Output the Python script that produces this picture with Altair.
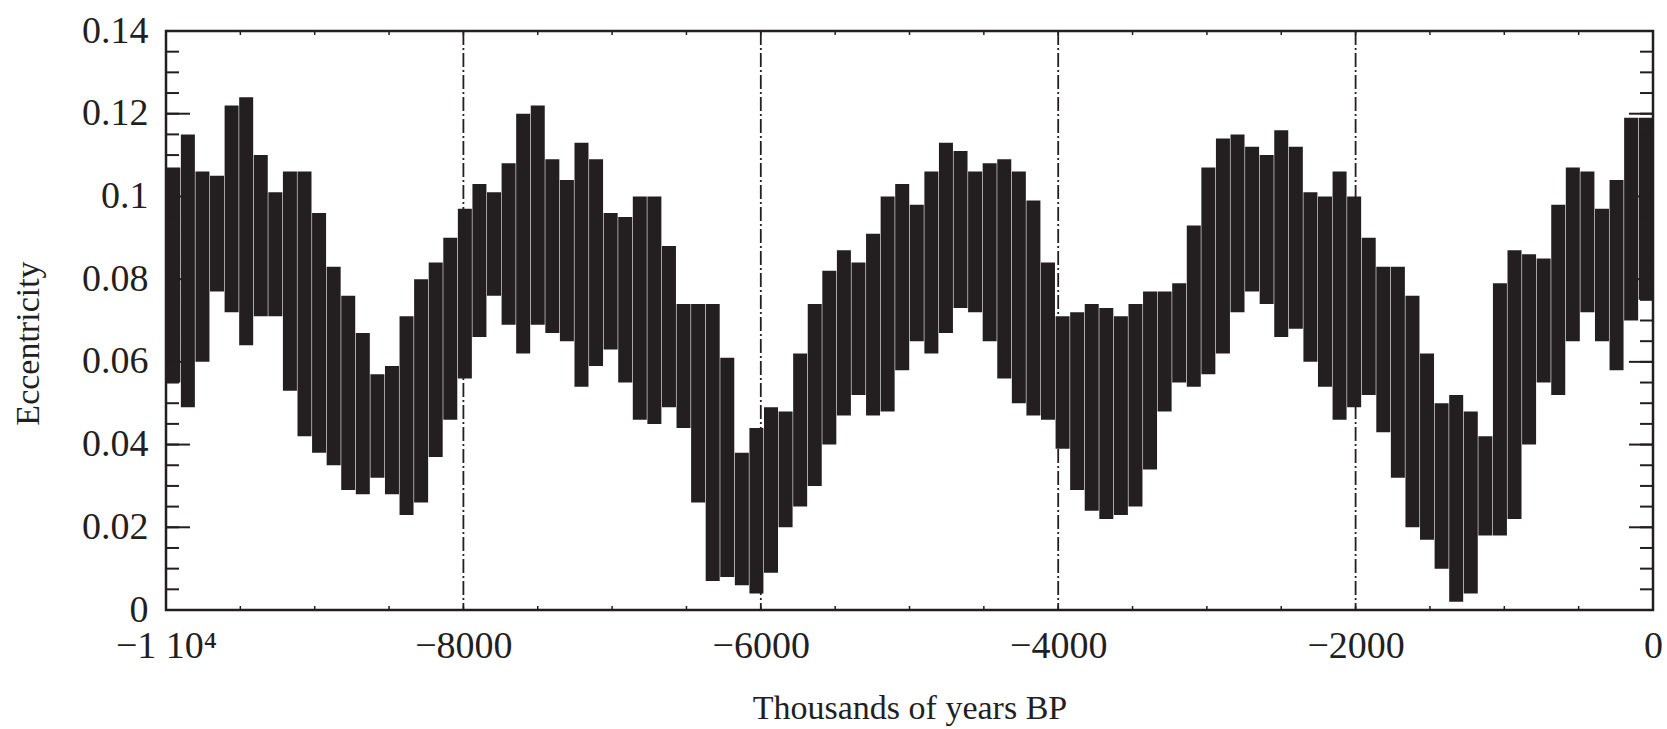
import altair as alt
import pandas as pd

# Upper and lower values of each ~98 kyr oscillation (left to right)
ecc_high = [0.107, 0.115, 0.106, 0.105, 0.122, 0.124, 0.110, 0.101, 0.106, 0.106,
            0.096, 0.083, 0.076, 0.067, 0.057, 0.059, 0.071, 0.080, 0.084, 0.090,
            0.097, 0.103, 0.101, 0.108, 0.120, 0.122, 0.109, 0.104, 0.113, 0.109,
            0.096, 0.095, 0.100, 0.100, 0.088, 0.074, 0.074, 0.074, 0.061, 0.038,
            0.044, 0.049, 0.048, 0.062, 0.074, 0.082, 0.087, 0.084, 0.091, 0.100,
            0.103, 0.098, 0.106, 0.113, 0.111, 0.106, 0.108, 0.109, 0.106, 0.099,
            0.084, 0.071, 0.072, 0.074, 0.073, 0.071, 0.074, 0.077, 0.077, 0.079,
            0.093, 0.107, 0.114, 0.115, 0.112, 0.110, 0.116, 0.112, 0.101, 0.100,
            0.106, 0.100, 0.090, 0.083, 0.083, 0.076, 0.062, 0.050, 0.052, 0.048,
            0.042, 0.079, 0.087, 0.086, 0.085, 0.098, 0.107, 0.106, 0.097, 0.104,
            0.119, 0.119]
ecc_low = [0.055, 0.049, 0.060, 0.077, 0.072, 0.064, 0.071, 0.071, 0.053, 0.042,
           0.038, 0.035, 0.029, 0.028, 0.032, 0.028, 0.023, 0.026, 0.037, 0.046,
           0.056, 0.066, 0.076, 0.069, 0.062, 0.069, 0.067, 0.065, 0.054, 0.059,
           0.063, 0.055, 0.046, 0.045, 0.049, 0.044, 0.026, 0.007, 0.008, 0.006,
           0.004, 0.009, 0.020, 0.025, 0.030, 0.040, 0.047, 0.052, 0.047, 0.048,
           0.058, 0.065, 0.062, 0.067, 0.073, 0.072, 0.065, 0.056, 0.050, 0.047,
           0.046, 0.039, 0.029, 0.024, 0.022, 0.023, 0.025, 0.034, 0.048, 0.055,
           0.054, 0.057, 0.062, 0.072, 0.077, 0.074, 0.066, 0.068, 0.060, 0.054,
           0.046, 0.049, 0.052, 0.043, 0.032, 0.020, 0.017, 0.010, 0.002, 0.004,
           0.018, 0.018, 0.022, 0.040, 0.055, 0.052, 0.065, 0.072, 0.065, 0.058,
           0.070, 0.075]

x_domain = [-10000, 0]
y_domain = [0, 0.14]
x_tick_values = [-10000, -8000, -6000, -4000, -2000, 0]
x_tick_labels = ["\u22121  10\u2074", "\u22128000", "\u22126000", "\u22124000", "\u22122000", "0"]
y_tick_values = [0, 0.02, 0.04, 0.06, 0.08, 0.1, 0.12, 0.14]
y_tick_labels = ["0", "0.02", "0.04", "0.06", "0.08", "0.1", "0.12", "0.14"]
x_minor_values = list(range(-10000, 1, 500))
y_minor_values = [round(i * 0.005, 3) for i in range(0, 29)]
marker_lines = [-8000, -6000, -4000, -2000]

W, H = 1487, 579
n = len(ecc_high)
step = (x_domain[1] - x_domain[0]) / n
df = pd.DataFrame({
    "t": [x_domain[0] + step * (i + 0.5) for i in range(n)],
    "hi": ecc_high,
    "lo": ecc_low,
})

INK = "#231f20"
FONT = "Liberation Serif"

def label_expr(values, labels):
    expr = "''"
    for v, l in zip(reversed(values), reversed(labels)):
        expr = f"abs(datum.value - ({v})) < 1e-9 ? '{l}' : ({expr})"
    return expr

xs = alt.Scale(domain=x_domain, nice=False, zero=False)
ys = alt.Scale(domain=y_domain, nice=False, zero=False)

vlines = alt.Chart(pd.DataFrame({"t": marker_lines})).mark_rule(
    color=INK, strokeWidth=1.8, strokeDash=[14, 3, 2, 3]
).encode(x=alt.X("t:Q", scale=xs, axis=None))

bars = alt.Chart(df).mark_rule(strokeWidth=14, color=INK, clip=True).encode(
    x=alt.X("t:Q", scale=xs, axis=alt.Axis(
        orient="bottom", values=x_tick_values, ticks=False, tickSize=0, domain=False,
        grid=False, labelExpr=label_expr(x_tick_values, x_tick_labels),
        labelFont=FONT, labelFontSize=38, labelColor=INK, labelPadding=17,
        labelFlush=False, labelOverlap=False, labelBound=False,
        title="Thousands of years BP", titleFont=FONT, titleFontSize=34,
        titleFontWeight="normal", titleColor=INK, titleX=743.5, titleY=108,
        titleBaseline="alphabetic", titleAlign="center")),
    y=alt.Y("lo:Q", scale=ys, axis=alt.Axis(
        orient="left", values=y_tick_values, ticks=False, tickSize=0, domain=False,
        grid=False, labelExpr=label_expr(y_tick_values, y_tick_labels),
        labelFont=FONT, labelFontSize=38, labelColor=INK, labelPadding=18,
        labelFlush=False, labelOverlap=False, labelBound=False,
        title="Eccentricity", titleFont=FONT, titleFontSize=34,
        titleFontWeight="normal", titleColor=INK, titleX=-138, titleY=312,
        titleAngle=270, titleBaseline="middle", titleAlign="center")),
    y2="hi:Q",
)

def y_ticks(values, x0, x1):
    return alt.Chart(pd.DataFrame({"v": values})).mark_rule(
        color=INK, strokeWidth=2
    ).encode(y=alt.Y("v:Q", scale=ys, axis=None), x=alt.value(x0), x2=alt.value(x1))

def x_ticks(values, y0, y1):
    return alt.Chart(pd.DataFrame({"v": values})).mark_rule(
        color=INK, strokeWidth=1.5
    ).encode(x=alt.X("v:Q", scale=xs, axis=None), y=alt.value(y0), y2=alt.value(y1))

tick_layers = [
    y_ticks(y_minor_values, 0, 13),
    y_ticks(y_tick_values, 0, 24),
    y_ticks(y_minor_values, W - 13, W),
    y_ticks(y_tick_values, W - 24, W),
    x_ticks(x_minor_values, H - 4, H),
    x_ticks(x_minor_values, 0, 4),
]

chart = alt.layer(vlines, bars, *tick_layers).resolve_axis(
    x="independent", y="independent"
).properties(
    width=W, height=H,
    autosize=alt.AutoSizeParams(type="none"),
    padding={"left": 166, "top": 31, "right": 14, "bottom": 119},
    background="white",
).configure_view(
    stroke=INK, strokeWidth=2.5
)

chart.save("out.html", embed_options={"renderer": "svg", "actions": False})
